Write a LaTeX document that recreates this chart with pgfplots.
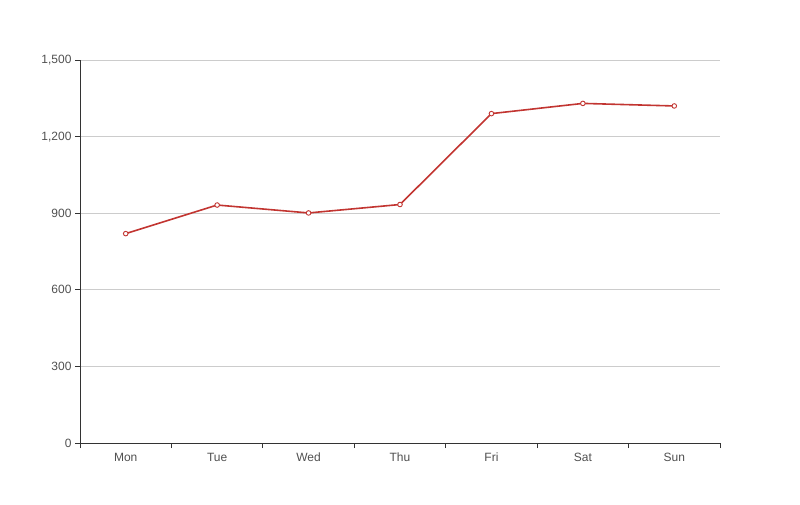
\documentclass[border=0pt]{standalone}
\usepackage{pgfplots}
\pgfplotsset{compat=1.18}
\usepackage{fontspec}
\setmainfont{Liberation Sans}
\definecolor{linered}{HTML}{C23531}
\definecolor{axisgray}{HTML}{333333}
\definecolor{gridgray}{HTML}{CCCCCC}
\definecolor{labelgray}{HTML}{505050}
\begin{document}
\begin{tikzpicture}
\path[use as bounding box] (0pt,0pt) rectangle (800pt,504pt);
\begin{axis}[
  at={(80pt,61pt)}, anchor=south west,
  scale only axis, width=640pt, height=383pt,
  xmin=-0.5, xmax=6.5, ymin=0, ymax=1500,
  axis x line*=bottom, axis y line*=left,
  axis line style={draw=axisgray, line width=0.8pt},
  xtick={-0.5,0.5,...,6.5},
  xticklabels={Mon,Tue,Wed,Thu,Fri,Sat,Sun},
  x tick label as interval,
  xticklabel style={text height=9pt, text depth=3pt, yshift=-1pt},
  ytick={0,300,600,900,1200,1500},
  ymajorgrids, grid style={draw=gridgray, line width=0.8pt},
  tick align=outside, major tick length=5pt,
  tick style={draw=axisgray, line width=0.8pt},
  tick label style={font=\fontsize{12}{14}\selectfont, text=labelgray},
  /pgf/number format/assume math mode=true,
  /pgf/number format/.cd, 1000 sep={,},
]
\addplot[color=linered, line width=1.6pt, mark=*, mark size=2.3pt,
  mark options={fill=white, draw=linered, line width=0.9pt}] coordinates {
  (0,820) (1,932) (2,901) (3,934) (4,1290) (5,1330) (6,1320)
};
\end{axis}
\end{tikzpicture}
\end{document}
